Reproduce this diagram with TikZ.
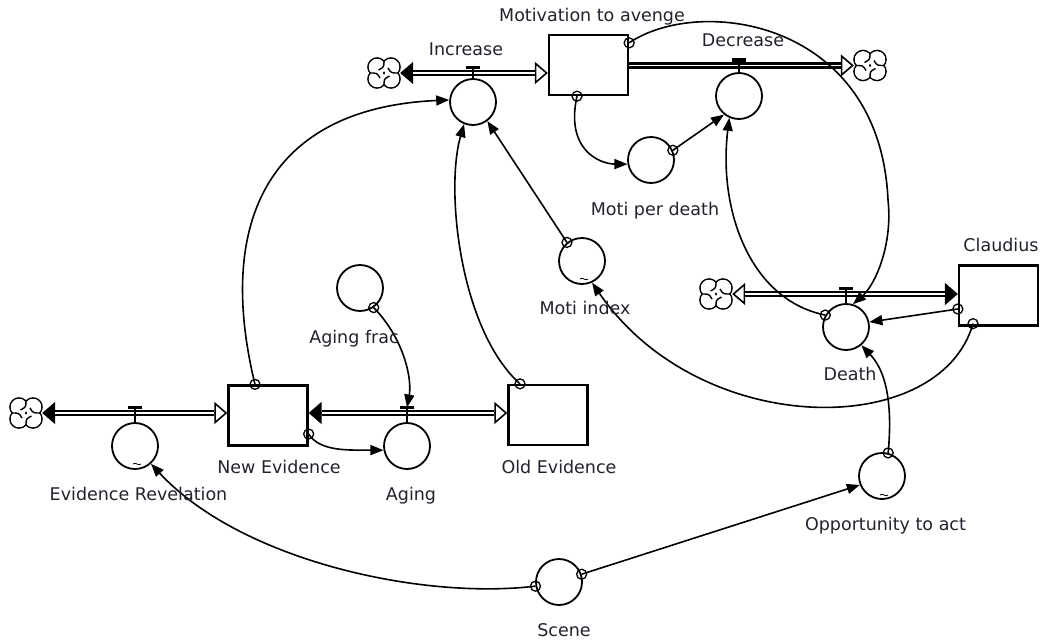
\documentclass[tikz,border=0pt]{standalone}
\usepackage{fontspec}
\setmainfont{DejaVu Sans}
\usetikzlibrary{arrows.meta,calc}
\definecolor{labelink}{RGB}{35,35,45}
\begin{document}
\begin{tikzpicture}[x=1pt,y=-1pt,
  stock/.style={draw, line width=2.3pt, minimum width=79pt, minimum height=60pt, inner sep=0pt},
  conv/.style={draw, circle, line width=1.8pt, minimum size=46pt, inner sep=0pt},
  cloudspot/.style={circle, minimum size=32pt, inner sep=0pt},
  lbl/.style={anchor=base, text=labelink, inner sep=0pt, font=\fontsize{17.5}{20}\selectfont},
  fullhead/.tip={Triangle[length=13pt,width=22pt]},
  openhead/.tip={Triangle[open,length=13pt,width=22pt]},
  conhead/.tip={Triangle[length=13pt,width=10pt]},
  conn/.style={line width=1.6pt, -{conhead}},
  odot/.style={draw, circle, line width=1.3pt, minimum size=10pt, inner sep=0pt},
  pipe/.style={double, double distance=1.7pt, line width=2.4pt, shorten <=13pt, shorten >=13pt},
  pipetips/.style={line width=1.6pt},
  valvebar/.style={line width=3.2pt},
  valvestem/.style={line width=1.8pt},
  sfcloud/.pic={
    \foreach \cx/\cy in {-7/-6,7/-6,7/6,-7/6}
      \draw[line width=1.6pt] (\cx,\cy) circle (9);
    \foreach \cx/\cy in {-7/-6,7/-6,7/6,-7/6}
      \fill[white] (\cx,\cy) circle (8.2);
    \draw[line width=1.4pt]
      (0,-12.5) .. controls (0,-6) .. (-5.5,-3)
      (14,0) .. controls (7,0) .. (4,-5)
      (0,12.5) .. controls (0,6) .. (5.5,3)
      (-14,0) .. controls (-7,0) .. (-4,5);
  },
  tildemark/.pic={
    \draw[line width=0.8pt] (-4,0) .. controls (-1.5,-2.5) and (1.5,2.5) .. (4,0);
  }
]
\useasboundingbox (0,0) rectangle (1050,643);
\fill[white] (0,0) rectangle (1050,643);

% stocks
\node[stock] (mot) at (588.5,65) {};
\node[stock] (cl)  at (998.5,295.5) {};
\node[stock] (ne)  at (268,415.5) {};
\node[stock] (oe)  at (548,415) {};

% converters and flow rates
\node[conv] (inc)   at (473,102) {};
\node[conv] (dec)   at (739,96) {};
\node[conv] (mpd)   at (651,160) {};
\node[conv] (mi)    at (582,261) {};
\node[conv] (af)    at (360,288) {};
\node[conv] (death) at (846,327) {};
\node[conv] (aging) at (407,446) {};
\node[conv] (er)    at (135,446) {};
\node[conv] (opp)   at (882,476) {};
\node[conv] (scene) at (559,582) {};

% graphical-function marks
\pic at ([xshift=2pt,yshift=-18pt]mi.center) {tildemark};
\pic at ([xshift=2pt,yshift=-18pt]er.center) {tildemark};
\pic at ([xshift=2pt,yshift=-19pt]opp.center) {tildemark};

% sources and sinks
\node[cloudspot] (cinc)   at (384,73) {};
\node[cloudspot] (cdec)   at (870,65.5) {};
\node[cloudspot] (cdeath) at (716,294) {};
\node[cloudspot] (cer)    at (26,413) {};
\pic at (cinc) {sfcloud};
\pic at (cdec) {sfcloud};
\pic at (cdeath) {sfcloud};
\pic at (cer) {sfcloud};

% flow pipes
\draw[pipetips, {fullhead}-{openhead}] (cinc.east) -- (cinc.east -| mot.west);
\draw[pipe] (cinc.east) -- (cinc.east -| mot.west);
\draw[pipetips, -{openhead}] (mot.east |- cdec.west) -- (cdec.west);
\draw[pipe, shorten <=0pt] (mot.east |- cdec.west) -- (cdec.west);
\draw[pipetips, {openhead}-{fullhead}] (cdeath.east) -- (cdeath.east -| cl.west);
\draw[pipe] (cdeath.east) -- (cdeath.east -| cl.west);
\draw[pipetips, {fullhead}-{openhead}] (cer.east) -- (cer.east -| ne.west);
\draw[pipe] (cer.east) -- (cer.east -| ne.west);
\draw[pipetips, {fullhead}-{openhead}] (ne.east |- cer.east) -- (oe.west |- cer.east);
\draw[pipe] (ne.east |- cer.east) -- (oe.west |- cer.east);

% valves
\coordinate (vinc)   at ($(inc.north |- cinc.east)+(0,-5.5)$);
\coordinate (vdec)   at ($(dec.north |- cdec.west)+(0,-5.5)$);
\coordinate (vdeath) at ($(death.north |- cdeath.east)+(0,-5.5)$);
\coordinate (ver)    at ($(er.north |- cer.east)+(0,-5.5)$);
\coordinate (agv)    at ($(aging.north |- cer.east)+(0,-5.5)$);
\foreach \c/\v in {inc/vinc,dec/vdec,death/vdeath,er/ver,aging/agv}{
  \draw[valvestem] (\c.north) -- (\v);
  \draw[valvebar] ([xshift=-7pt]\v) -- ([xshift=7pt]\v);
}

% connectors
\draw[conn] ([xshift=-13pt]ne.north) node[odot](o1){} .. controls (215,220) and (270,108) .. (inc.175);
\draw[conn] ([xshift=-28pt]oe.north) node[odot](o2){} .. controls (460,330) and (445,190) .. (inc.248);
\draw[conn] (mi.129) node[odot](o3){} -- (inc.307);
\draw[conn] ([xshift=-11.5pt]mot.south) node[odot](o4){} .. controls (565,150) and (600,164) .. (mpd.190);
\draw[conn] (mpd.24) node[odot](o5){} -- (dec.231);
\draw[conn] ([yshift=-9pt]mot.north east) node[odot](o6){} .. controls (700,-5) and (880,20) .. (888,200) .. controls (893,245) and (875,285) .. (death.73);
\draw[conn] (death.150) node[odot](o7){} .. controls (750,300) and (718,210) .. (dec.246);
\draw[conn] ([yshift=-13.5pt]cl.west) node[odot](o8){} -- (death.12);
\draw[conn] ([xshift=-25.5pt,yshift=3pt]cl.south) node[odot](o9){} .. controls (940,440) and (700,440) .. (mi.295);
\draw[conn] (opp.75) node[odot](o10){} .. controls (893,400) and (885,370) .. (death.310);
\draw[conn] (scene.19) node[odot](o11){} -- (opp.202);
\draw[conn] (scene.190) node[odot](o12){} .. controls (420,600) and (240,560) .. (er.312);
\draw[conn] ([yshift=-18.5pt]ne.east) node[odot](o13){} .. controls (320,452) and (350,450) .. (aging.190);
\draw[conn] (af.305) node[odot](o14){} .. controls (405,340) and (412,380) .. (agv);

% labels
\node[lbl] (motl)   at (592,21)    {Motivation to avenge};
\node[lbl] (incl)   at (466,55)    {Increase};
\node[lbl] (decl)   at (743,46)    {Decrease};
\node[lbl] (mpdl)   at (655,215)   {Moti per death};
\node[lbl] (mil)    at (585,314)   {Moti index};
\node[lbl] (cll)    at (1001,251)  {Claudius};
\node[lbl] (afl)    at (354,343)   {Aging frac};
\node[lbl] (deathl) at (850,380)   {Death};
\node[lbl] (nel)    at (279,473.5) {New Evidence};
\node[lbl] (oel)    at (559,473.5) {Old Evidence};
\node[lbl] (erl)    at (138.5,500) {Evidence Revelation};
\node[lbl] (agingl) at (411,500.5) {Aging};
\node[lbl] (oppl)   at (885.5,530) {Opportunity to act};
\node[lbl] (scenel) at (564,636)   {Scene};
\end{tikzpicture}
\end{document}
